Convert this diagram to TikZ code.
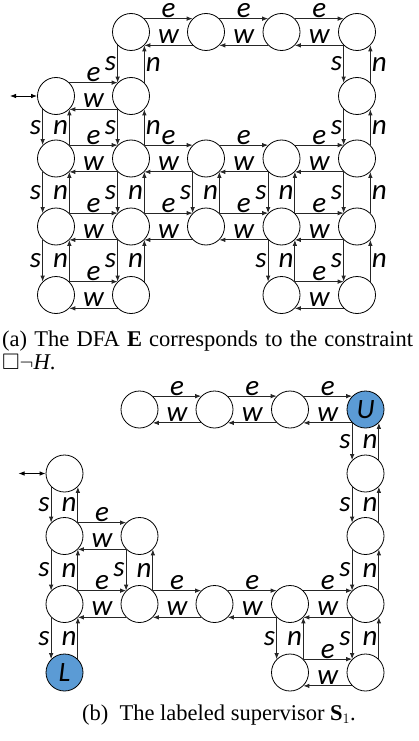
\documentclass[tikz,border=0pt]{standalone}
\usepackage{amssymb}
\usepackage{fontspec}
\setmainfont{Liberation Serif}
\newfontfamily\calibri{Carlito}
\usetikzlibrary{arrows.meta}
\definecolor{goalblue}{RGB}{91,155,213}

\tikzset{
  cell/.style={circle,draw,line width=0.8pt,minimum size=37pt,inner sep=0pt,
    font=\calibri\itshape\fontsize{28}{28}\selectfont},
  goal/.style={cell,fill=goalblue},
  tr/.style={-{Latex[length=6pt,width=4.5pt]},line width=0.8pt,draw=black!85},
  twoway/.style={{Latex[length=6pt,width=4.5pt]}-{Latex[length=6pt,width=4.5pt]},line width=0.8pt},
  lbl/.style={font=\calibri\itshape\fontsize{29}{29}\selectfont,inner sep=1pt},
  caption/.style={inner sep=0pt,font=\fontsize{22.5}{23}\selectfont},
}

% e on top / w underneath between two neighbours in a row
\newcommand{\ewpair}[2]{%
  \draw[tr] (#1.north east) -- node[lbl,above,inner sep=0.5pt]{e} (#2.north west);
  \draw[tr] (#2.south west) -- node[lbl,above]{w} (#1.south east);}
% s going down / n going up between two neighbours in a column
\newcommand{\snpair}[3][left]{%
  \draw[tr] (#2.south west) -- node[lbl,left]{s} (#3.north west);
  \draw[tr] (#3.north east) -- node[lbl,#1]{n} (#2.south east);}

\begin{document}
\begin{tikzpicture}[x=1pt,y=-1pt]
  \useasboundingbox (0,0) rectangle (419,741);
  % the DFA E
  \node[cell] (a01) at (131,32) {};
  \node[cell] (a02) at (206,32) {};
  \node[cell] (a03) at (281.5,32) {};
  \node[cell] (a04) at (357,32) {};
  \node[cell] (a10) at (56,96) {};
  \node[cell] (a11) at (131,96) {};
  \node[cell] (a14) at (357,96) {};
  \foreach \c/\x in {0/56,1/131,2/206,3/281.5,4/357} {
    \node[cell] (a2\c) at (\x,158.5) {};
    \node[cell] (a3\c) at (\x,226.5) {};
  }
  \node[cell] (a40) at (56,295) {};
  \node[cell] (a41) at (131,295) {};
  \node[cell] (a43) at (281.5,295) {};
  \node[cell] (a44) at (357,295) {};

  \ewpair{a01}{a02} \ewpair{a02}{a03} \ewpair{a03}{a04}
  \ewpair{a10}{a11}
  \foreach \r in {2,3} {
    \foreach \c/\d in {0/1,1/2,2/3,3/4} {\ewpair{a\r\c}{a\r\d}}
  }
  \ewpair{a40}{a41} \ewpair{a43}{a44}

  \snpair[right]{a01}{a11} \snpair[right]{a11}{a21}
  \snpair[right]{a04}{a14} \snpair[right]{a14}{a24}
  \snpair[right]{a24}{a34} \snpair[right]{a34}{a44}
  \snpair{a10}{a20} \snpair{a20}{a30} \snpair{a30}{a40}
  \snpair{a21}{a31} \snpair{a31}{a41}
  \snpair{a22}{a32}
  \snpair{a23}{a33} \snpair{a33}{a43}

  \coordinate (ain) at (10,96);
  \draw[twoway] (ain) -- (a10);

  \node[caption,anchor=north west,text width=411pt,align=justify] (capa) at (2,331)
    {(a) The DFA \textbf{E} corresponds to the constraint\linebreak
     $\square\neg$\textit{H}.};

  % the labeled supervisor S1
  \begin{scope}[shift={(8.5,377.5)}]
    \node[cell] (b01) at (131,32) {};
    \node[cell] (b02) at (206,32) {};
    \node[cell] (b03) at (281.5,32) {};
    \node[goal] (b04) at (357,32) {U};
    \node[cell] (b10) at (56,96) {};
    \node[cell] (b14) at (357,96) {};
    \node[cell] (b20) at (56,158.5) {};
    \node[cell] (b21) at (131,158.5) {};
    \node[cell] (b24) at (357,158.5) {};
    \foreach \c/\x in {0/56,1/131,2/206,3/281.5,4/357}
      \node[cell] (b3\c) at (\x,226.5) {};
    \node[goal] (b40) at (56,295) {L};
    \node[cell] (b43) at (281.5,295) {};
    \node[cell] (b44) at (357,295) {};

    \ewpair{b01}{b02} \ewpair{b02}{b03} \ewpair{b03}{b04}
    \ewpair{b20}{b21}
    \foreach \c/\d in {0/1,1/2,2/3,3/4} {\ewpair{b3\c}{b3\d}}
    \ewpair{b43}{b44}

    \snpair{b04}{b14} \snpair{b14}{b24} \snpair{b24}{b34} \snpair{b34}{b44}
    \snpair{b10}{b20} \snpair{b20}{b30} \snpair{b30}{b40}
    \snpair{b21}{b31}
    \snpair{b33}{b43}

    \coordinate (bin) at (10,96);
    \draw[twoway] (bin) -- (b10);
  \end{scope}

  \node[caption,anchor=base] (capb) at (219,720)
    {(b)\ \ The labeled supervisor \textbf{S}$_1$.};
\end{tikzpicture}
\end{document}
